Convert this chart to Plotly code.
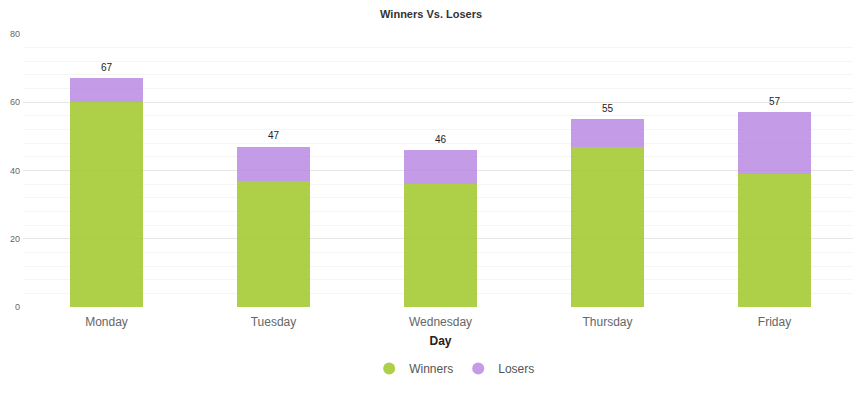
import plotly.graph_objects as go

days = ["Monday", "Tuesday", "Wednesday", "Thursday", "Friday"]
winners = [60, 37, 36, 47, 39]
losers = [7, 10, 10, 8, 18]
totals = [w + l for w, l in zip(winners, losers)]

GREEN = "rgba(160,200,40,0.85)"
PURPLE = "rgba(180,130,225,0.8)"

fig = go.Figure()
fig.add_trace(go.Bar(x=days, y=winners, name="Winners", marker_color=GREEN,
                     marker_line_width=0, width=0.44, showlegend=False))
fig.add_trace(go.Bar(x=days, y=losers, name="Losers", marker_color=PURPLE,
                     marker_line_width=0, width=0.44, showlegend=False))
# legend entries with circular markers
fig.add_trace(go.Scatter(x=[None], y=[None], mode="markers", name="Winners",
                         marker=dict(color=GREEN, size=12, symbol="circle")))
fig.add_trace(go.Scatter(x=[None], y=[None], mode="markers", name="Losers",
                         marker=dict(color=PURPLE, size=12, symbol="circle")))

for d, t in zip(days, totals):
    fig.add_annotation(x=d, y=t, text=str(t), showarrow=False, yshift=11,
                       font=dict(size=10, color="#222", family="Arial"))

# page body has an 8px default margin, so the figure is sized to fit inside it
fig.update_layout(
    barmode="stack",
    width=853, height=386,
    margin=dict(l=15, r=3, t=26, b=87, autoexpand=False),
    paper_bgcolor="white", plot_bgcolor="white",
    title=dict(text="<b>Winners Vs. Losers</b>", x=0.496, xanchor="center",
               y=0.985, yanchor="middle",
               font=dict(size=11, color="#333", family="Arial")),
    font=dict(family="Arial"),
    xaxis=dict(title=dict(text="<b>Day</b>", font=dict(size=12, color="#222"), standoff=8),
               tickfont=dict(size=12, color="#666"), showgrid=False, showline=False,
               ticks="", zeroline=False, ticklabelstandoff=6, automargin=False),
    yaxis=dict(range=[0, 80], dtick=20, tickfont=dict(size=9, color="#666"),
               gridcolor="#e6e6e6", gridwidth=1, zeroline=False, ticks="",
               minor=dict(dtick=4, showgrid=True, gridcolor="#f5f5f5"),
               ticklabelstandoff=2, automargin=False),
    legend=dict(orientation="h", x=0.517, xanchor="center", y=-0.172, yanchor="top",
                traceorder="normal",
                font=dict(size=12, color="#555"), itemwidth=30),
)

fig.write_html("out.html")
